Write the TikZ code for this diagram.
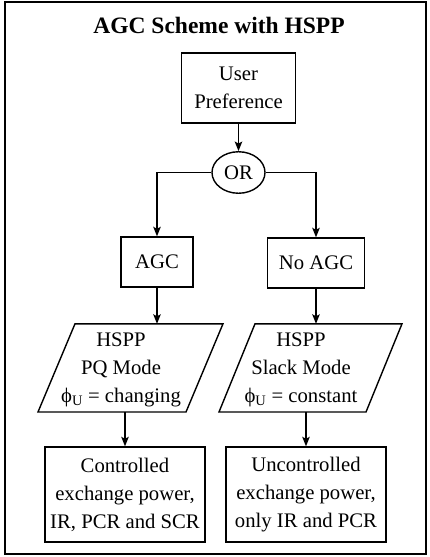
\documentclass[tikz,border=0pt]{standalone}
\usepackage{fontspec}
\setmainfont{Liberation Serif}
\usetikzlibrary{shapes.geometric,arrows.meta}
\begin{document}
\begin{tikzpicture}[x=1pt,y=-1pt,
  box/.style={draw,line width=1.4pt,rectangle,inner sep=0pt,align=center,font=\fontsize{20.7}{28}\selectfont},
  oval/.style={draw,ellipse,line width=1.4pt,inner sep=0pt,font=\fontsize{20.7}{28}\selectfont},
  lbl/.style={inner sep=0pt,align=center,font=\fontsize{20.7}{28}\selectfont},
  conn/.style={line width=1.4pt,-{Stealth[length=9.5pt,width=7.5pt,inset=2pt]}},
  plain/.style={line width=1.4pt,line join=miter}]
\useasboundingbox (0,0) rectangle (429,557);
\draw[line width=1.4pt] (5,2) rectangle (426,554);

\node[font=\bfseries\fontsize{23.5}{28}\selectfont,anchor=base,inner sep=0pt] (title) at (219,33) {AGC Scheme with HSPP};

\node[box,minimum width=114pt,minimum height=70pt] (up) at (238.5,88) {User\\Preference};
\node[oval,minimum width=53pt,minimum height=41.5pt] (or) at (238.5,172.5) {OR};
\node[box,minimum width=72pt,minimum height=50pt] (agc) at (157,262) {AGC};
\node[box,minimum width=96.5pt,minimum height=50pt] (noagc) at (316,263) {No AGC};

% parallelograms
\draw[plain] (75,323.8) -- (223,323.8) -- (186,412) -- (38,412) -- cycle;
\draw[plain] (255,323.8) -- (402,323.8) -- (366,412) -- (219,412) -- cycle;
\node[lbl] (pq) at (121,369.5) {HSPP\\PQ Mode\\ϕ\textsubscript{U} = changing};
\node[lbl] (slack) at (301,369.5) {HSPP\\Slack Mode\\ϕ\textsubscript{U} = constant};
\coordinate (pqin) at (157,323.8);
\coordinate (pqout) at (125,412);
\coordinate (slin) at (316,323.8);
\coordinate (slout) at (306,412);

\node[box,minimum width=160pt,minimum height=95pt] (ctrl) at (125,494.5) {Controlled\\exchange power,\\IR, PCR and SCR};
\node[box,minimum width=160pt,minimum height=95pt] (unc) at (306,494.5) {Uncontrolled\\exchange power,\\only IR and PCR};

\draw[conn] (up.south) -- (or.north);
\draw[conn] (or.west) -| (agc.north);
\draw[conn] (or.east) -| (noagc.north);
\draw[conn] (agc.south) -- (pqin);
\draw[conn] (noagc.south) -- (slin);
\draw[conn] (pqout) -- (ctrl.north);
\draw[conn] (slout) -- (unc.north);
\end{tikzpicture}
\end{document}
